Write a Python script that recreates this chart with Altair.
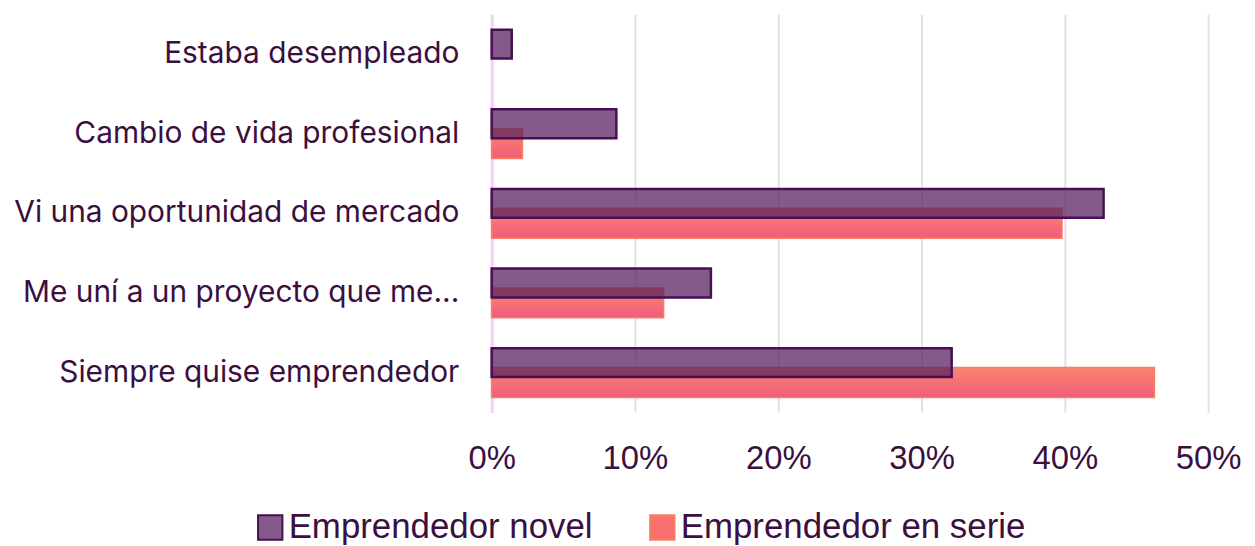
import altair as alt
import pandas as pd

categories = [
    "Estaba desempleado",
    "Cambio de vida profesional",
    "Vi una oportunidad de mercado",
    "Me uní a un proyecto que me...",
    "Siempre quise emprendedor",
]
novel = [0.014, 0.087, 0.427, 0.153, 0.321]
serie = [0.0, 0.0215, 0.398, 0.120, 0.4625]
series_names = ["Emprendedor novel", "Emprendedor en serie"]

df = pd.DataFrame({"cat": categories, "novel": novel, "serie": serie})

TEXT = "#3B0F40"
PURPLE = "#5A2360BF"
PURPLE_STROKE = "#4A0E55"
CORAL = "#F8706F"
CORAL_STROKE = "#F9805E"

grad = alt.Gradient(
    gradient="linear",
    stops=[alt.GradientStop(color="#F98670", offset=0),
           alt.GradientStop(color="#F25B7B", offset=1)],
    x1=0, x2=0, y1=0, y2=1,
)

y_enc = alt.Y(
    "cat:N", sort=categories, title=None,
    scale=alt.Scale(paddingInner=0, paddingOuter=0),
    axis=alt.Axis(
        labelFont="Inter", labelFontSize=30, labelColor=TEXT,
        labelPadding=33, ticks=False, domain=True, domainColor="#F2D2F6",
        domainWidth=3, labelLimit=600,
    ),
)
x_scale = alt.Scale(domain=[0, 0.5], nice=False)
x_axis = alt.Axis(
    format=".0%", values=[0, 0.1, 0.2, 0.3, 0.4, 0.5], title=None,
    labelFont="Liberation Sans", labelFontSize=33, labelColor=TEXT,
    labelPadding=30, ticks=False, domain=False, labelFlush=False,
    grid=True, gridColor="#E9DDE9", gridWidth=2,
)

coral = alt.Chart(df).transform_filter("datum.serie > 0").mark_bar(
    height=30, yOffset=10, fill=grad, stroke=CORAL_STROKE, strokeWidth=1.5,
).encode(
    y=y_enc,
    x=alt.X("serie:Q", scale=x_scale, axis=x_axis),
)

legend = alt.Legend(
    title=None, orient="none", direction="horizontal",
    legendX=-240, legendY=498,
    symbolType="square", symbolSize=600, symbolStrokeWidth=2,
    labelFont="Liberation Sans", labelFontSize=35, labelColor=TEXT,
    labelOffset=1, columnPadding=52, symbolOpacity=1, labelLimit=500,
)

purple = alt.Chart(df).transform_calculate(
    series="'Emprendedor novel'"
).mark_bar(
    height=29, yOffset=-10, strokeWidth=2.5,
).encode(
    y=y_enc,
    x=alt.X("novel:Q", scale=x_scale, axis=x_axis),
    fill=alt.Fill("series:N", scale=alt.Scale(domain=series_names, range=[PURPLE, CORAL]), legend=legend),
    stroke=alt.Stroke("series:N", scale=alt.Scale(domain=series_names, range=[PURPLE_STROKE, CORAL_STROKE]), legend=legend),
)

chart = alt.layer(coral, purple).properties(
    width=720, height=400,
).configure(background="white").configure_view(stroke=None)

chart.save("out.html", embed_options={"renderer": "svg", "actions": False})
